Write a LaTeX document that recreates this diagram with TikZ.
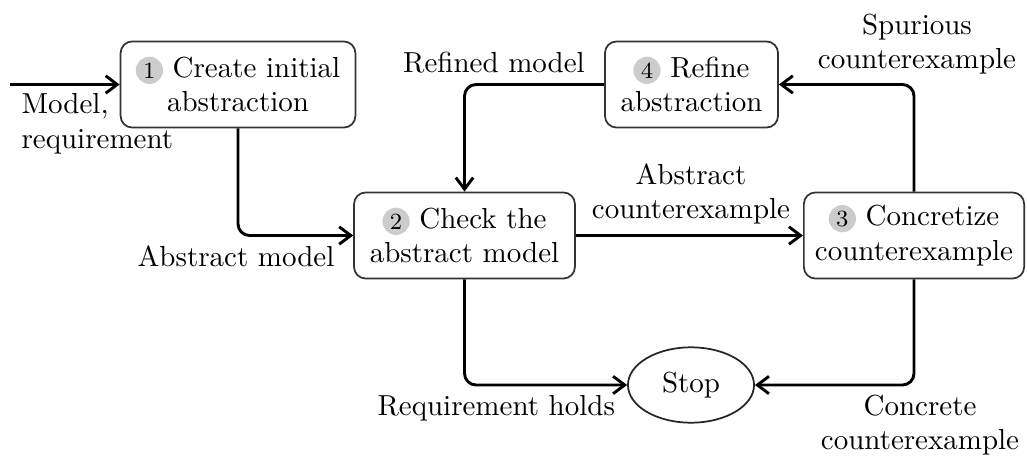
\documentclass[tikz,border=0pt]{standalone}
\usetikzlibrary{arrows.meta,shapes.geometric}

% numbered grey disc placed in front of a step title
\newcommand\stepnum[1]{\tikz[baseline=-0.55ex]\node[circle,fill=black!20,inner sep=0pt,minimum size=9.4pt,font=\footnotesize]{#1};}

\begin{document}
\begin{tikzpicture}[
  x=0.345pt, y=-0.345pt,
  stepbox/.style={draw=black!80, line width=0.6pt, rounded corners=4pt,
    align=center, inner sep=0pt, minimum height=29.7pt},
  endnode/.style={draw=black!85, line width=0.6pt, ellipse, inner sep=0pt,
    minimum width=43.5pt, minimum height=26pt},
  flow/.style={line width=1pt, rounded corners=4pt,
    -{Straight Barb[length=4pt,width=6pt]}},
  lbl/.style={inner sep=0pt, align=center}
]
\useasboundingbox (0,0) rectangle (1027,458);

% steps of the loop
\node[stepbox, minimum width=81pt] (b1) at (238,84.5)
  {\stepnum{1} Create initial\\abstraction};
\node[stepbox, minimum width=76.2pt] (b2) at (464.5,235.5)
  {\stepnum{2} Check the\\abstract model};
\node[stepbox, minimum width=76pt] (b3) at (914,235.5)
  {\stepnum{3} Concretize\\counterexample};
\node[stepbox, minimum width=59.7pt] (b4) at (691.5,84.5)
  {\stepnum{4} Refine\\abstraction};
\node[endnode] (stop) at (691,385) {Stop};
\coordinate (in) at (10,84.5);

% connectors
\draw[flow] (in) -- (b1.west);
\draw[flow] (b1.south) |- (b2.west);
\draw[flow] (b2.east) -- (b3.west);
\draw[flow] (b3.north) |- (b4.east);
\draw[flow] (b4.west) -| (b2.north);
\draw[flow] (b2.south) |- (stop.west);
\draw[flow] (b3.south) |- (stop.east);

% connector labels
\node[lbl, align=left, anchor=west] (lin) at (21,124) {Model,\\requirement};
\node[lbl, anchor=east] (labs) at (335,256) {Abstract model};
\node[lbl] (lcex) at (691,194) {Abstract\\counterexample};
\node[lbl] (lref) at (494,63) {Refined model};
\node[lbl] (lspur) at (917,44) {Spurious\\counterexample};
\node[lbl, anchor=west] (lholds) at (377,408) {Requirement holds};
\node[lbl] (lconc) at (920,425) {Concrete\\counterexample};
\end{tikzpicture}
\end{document}
